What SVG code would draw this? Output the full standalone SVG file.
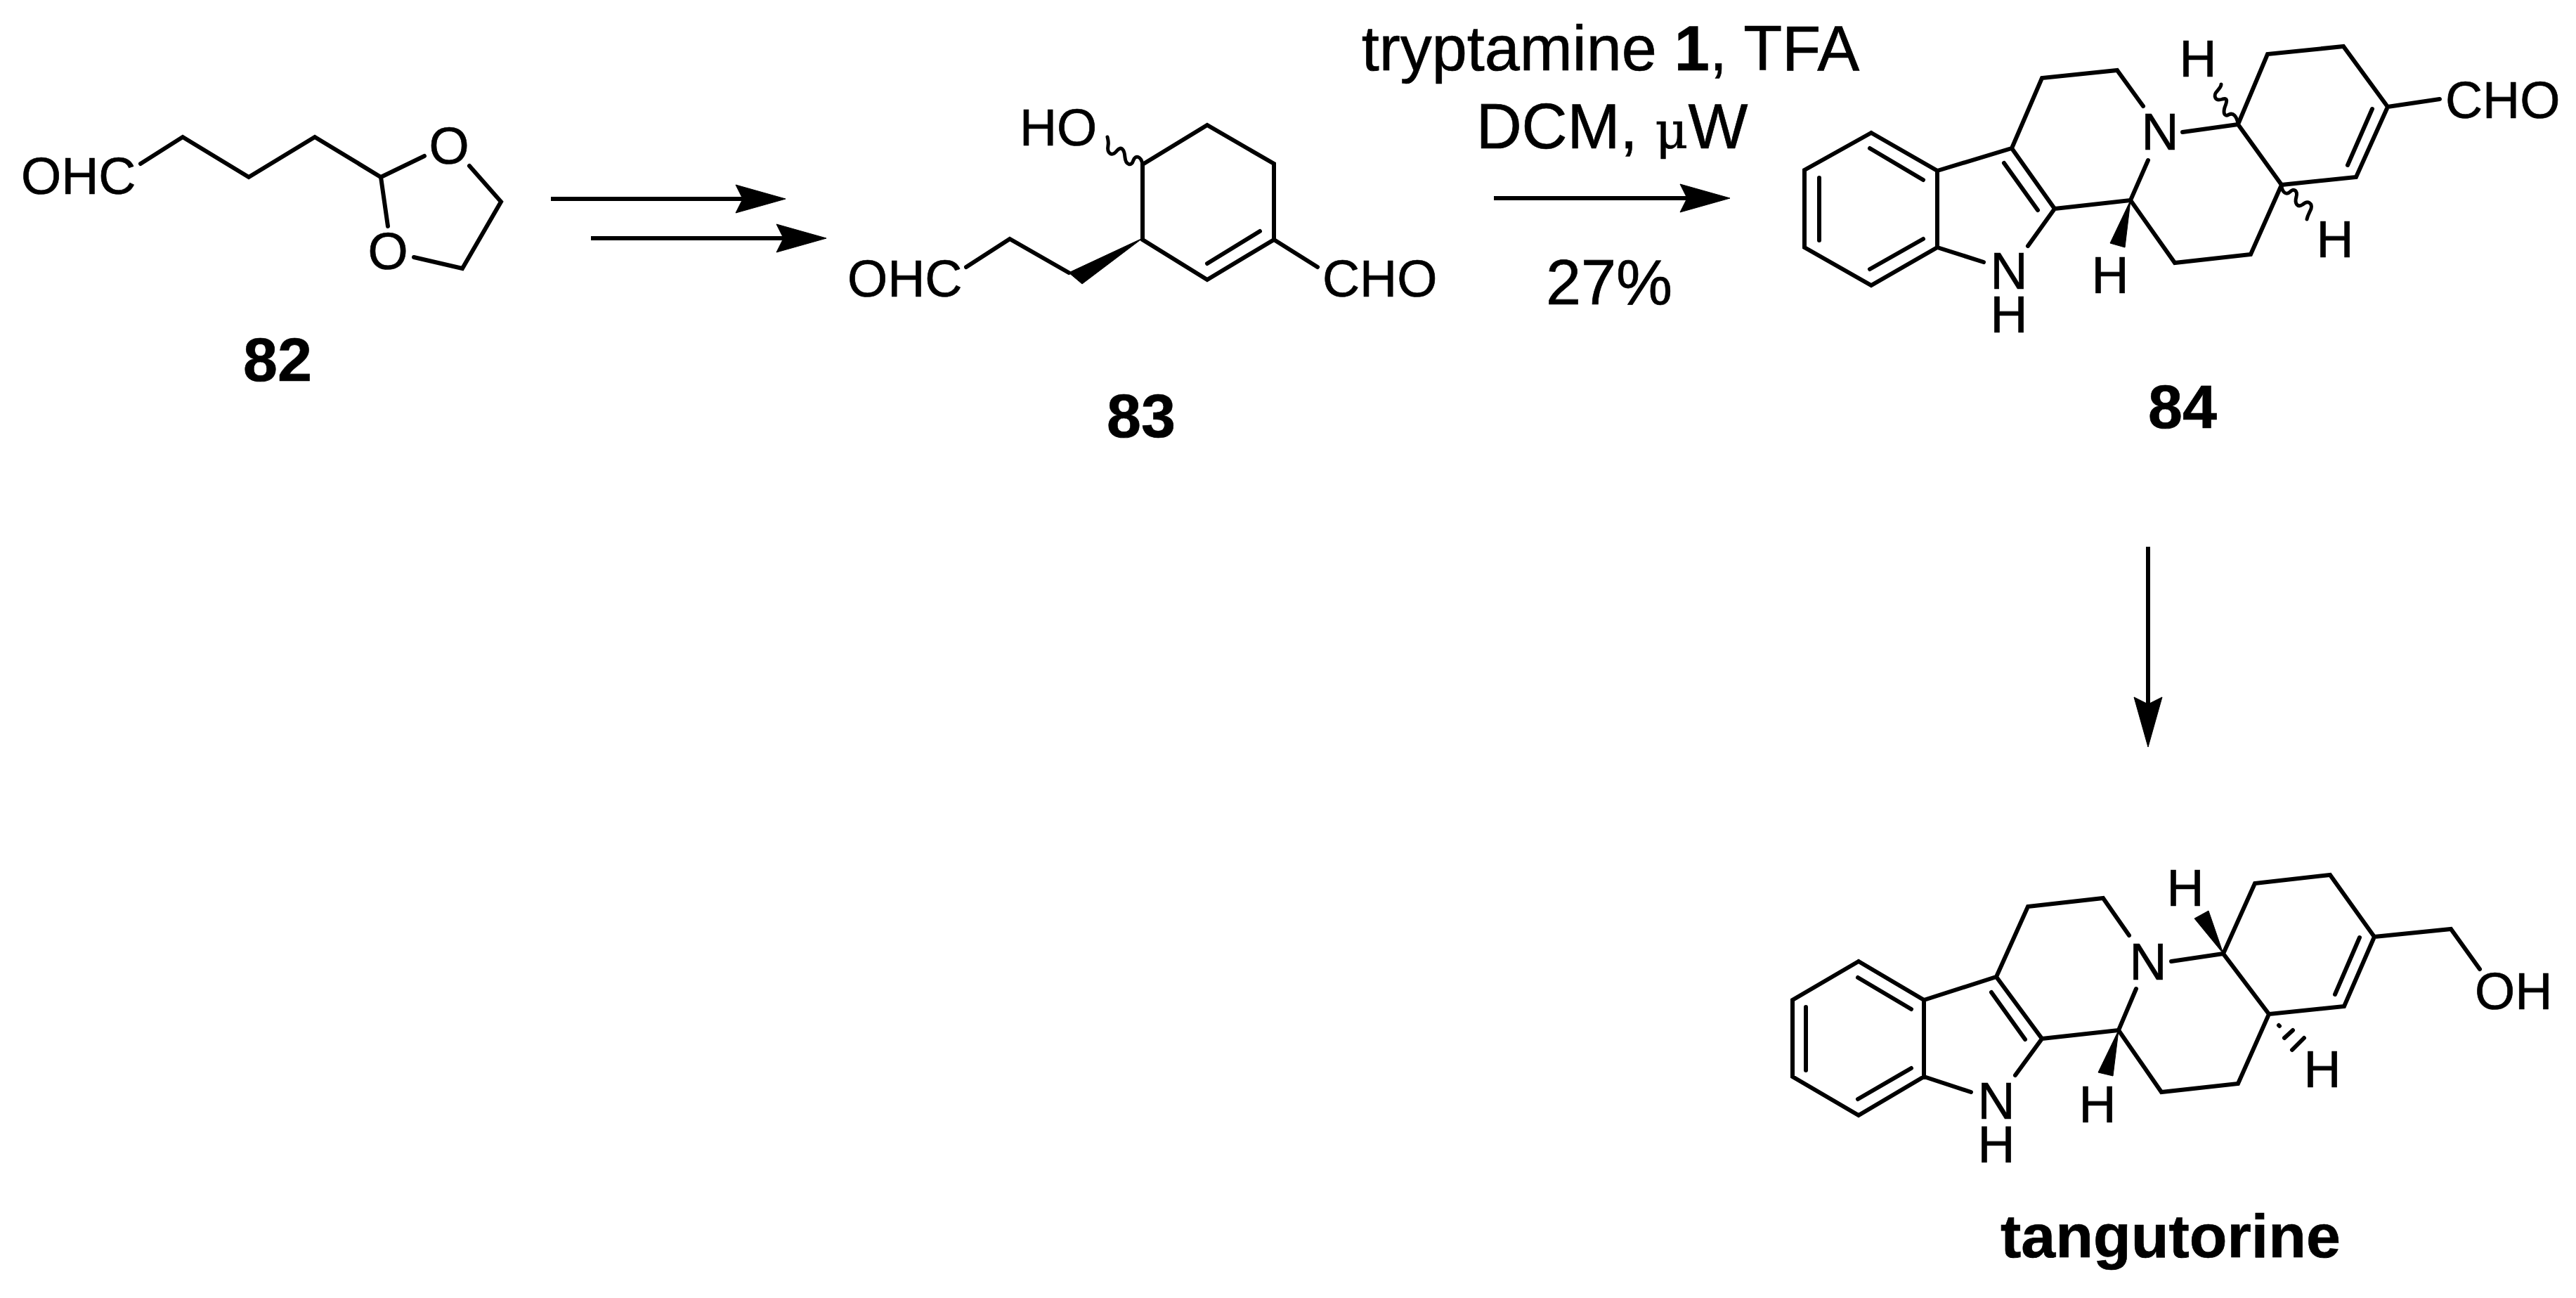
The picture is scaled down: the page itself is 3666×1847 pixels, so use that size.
<svg xmlns="http://www.w3.org/2000/svg" width="3666" height="1847" viewBox="0 0 3666 1847">
<style>
text{font-family:"Liberation Sans",Arial,sans-serif;fill:#000;stroke:#000;stroke-width:.7}
.a{font-size:73.5px}
.r{font-size:90px}
.b{font-size:88px;font-weight:bold}
.m{text-anchor:middle}
.mu{font-family:"DejaVu Serif",serif;font-size:72px}
path{fill:none;stroke:#000;stroke-width:6;stroke-linejoin:miter;stroke-linecap:round}
.w{stroke-width:5;stroke-linejoin:round}
.s{stroke-width:6;stroke-linecap:butt;marker-end:url(#head)}
polygon{fill:#000;stroke:#000;stroke-width:1;stroke-linejoin:round}
</style>
<defs>
<marker id="head" markerUnits="userSpaceOnUse" markerWidth="74" markerHeight="44" viewBox="0 0 74 44" refX="11" refY="22" orient="auto">
<polygon points="72,22 1,2 11,22 1,42"/>
</marker>
</defs>
<rect width="3666" height="1847" fill="#fff"/>
<g id="connectors">
<path class="s" d="M784 283H1057"/>
<path class="s" d="M841 339H1115"/>
<path class="s" d="M2126 282H2401"/>
<path class="s" d="M3057 778V1002"/>
</g>
<g id="c82">
<text class="a" x="30" y="276">OHC</text>
<path d="M200 233L260 195L354 252L448 195L542 252L604 222M542 252L552 322M668 236L713 287L658 382L589 366"/>
<text class="a m" x="639" y="233">O</text>
<text class="a m" x="552" y="383">O</text>
<text class="b m" x="395" y="542">82</text>
</g>
<g id="c83">
<text class="a" x="1451" y="207">HO</text>
<path d="M1626 234L1718 178L1813 233V341L1718 398L1626 341V234M1793 329L1718 375M1813 341L1875 380M1521 388L1437 340L1375 380"/>
<path class="w" d="M1626 234C1624 222 1616 220 1613 228C1610 238 1602 234 1601 224C1600 212 1596 208 1590 214C1582 224 1575 218 1577 207C1578 203 1577 199 1576 195"/>
<polygon points="1626,339 1540,404 1521,388"/>
<text class="a" x="1882" y="422">CHO</text>
<text class="a" x="1206" y="422">OHC</text>
<text class="b m" x="1624" y="622">83</text>
</g>
<g id="reagents">
<text class="r m" x="2292" y="100">tryptamine <tspan font-weight="bold">1</tspan>, TFA</text>
<text class="r m" x="2294" y="211">DCM, <tspan class="mu">μ</tspan>W</text>
<text class="r m" x="2290" y="433">27%</text>
</g>
<g id="c84">
<path d="M2663 189L2568 242V352L2663 406L2757 352V243L2663 189M2661 211L2737 256M2589 253V342M2661 383L2737 340M2757 243L2863 211L2924 297L2886 350M2757 352L2823 373M2852 232L2900 299M2863 211L2906 111L3013 100L3050 151M2924 297L3032 285L3057 228M3106 188L3185 177L3227 77L3335 66L3398 152L3353 252L3247 263L3185 177M3247 263L3203 362L3095 374L3032 285M3376 155L3341 235M3398 152L3472 141"/>
<path class="w" d="M3185 176C3183 165 3178 160 3172 163C3165 167 3164 160 3166 153C3170 143 3170 139 3163 141C3151 145 3150 135 3155 130C3158 126 3161 124 3161 120"/>
<path class="w" d="M3247 265C3248 274 3254 278 3259 273C3265 267 3270 272 3268 280C3265 290 3270 296 3277 291C3285 284 3291 290 3289 297C3287 302 3284 306 3283 312"/>
<polygon points="3032,285 3003,346 3024,352"/>
<text class="a m"><tspan x="2859" y="411">N</tspan><tspan x="2859" y="473">H</tspan></text>
<text class="a m" x="3074" y="213">N</text>
<text class="a m" x="3128" y="109">H</text>
<text class="a m" x="3323" y="366">H</text>
<text class="a m" x="3003" y="417">H</text>
<text class="a" x="3480" y="168">CHO</text>
<text class="b m" x="3106" y="609">84</text>
</g>
<g id="tangutorine">
<path d="M2645 1368L2551 1423V1532L2645 1587L2738 1532V1423L2645 1368M2644 1391L2720 1436M2570 1433V1523M2644 1564L2720 1520M2738 1423L2841 1390L2906 1478L2868 1530M2738 1532L2805 1554M2834 1412L2882 1479M2841 1390L2886 1290L2993 1278L3030 1331M2906 1478L3015 1466L3040 1407M3015 1466L3076 1554L3185 1542L3229 1443L3336 1432L3379 1333L3316 1245L3209 1257L3164 1357L3229 1443M3164 1357L3090 1368M3358 1334L3323 1415M3379 1333L3488 1322L3529 1379M3243 1459L3244 1460M3251 1477L3263 1466M3262 1494L3279 1477"/>
<polygon points="3015,1466 2986,1526 3007,1531"/>
<polygon points="3164,1357 3123,1307 3143,1296"/>
<text class="a m" x="3057" y="1394">N</text>
<text class="a m"><tspan x="2841" y="1592">N</tspan><tspan x="2841" y="1654">H</tspan></text>
<text class="a m" x="2985" y="1597">H</text>
<text class="a m" x="3110" y="1289">H</text>
<text class="a m" x="3305" y="1547">H</text>
<text class="a" x="3522" y="1436">OH</text>
<text class="b m" x="3089" y="1789">tangutorine</text>
</g>
</svg>
